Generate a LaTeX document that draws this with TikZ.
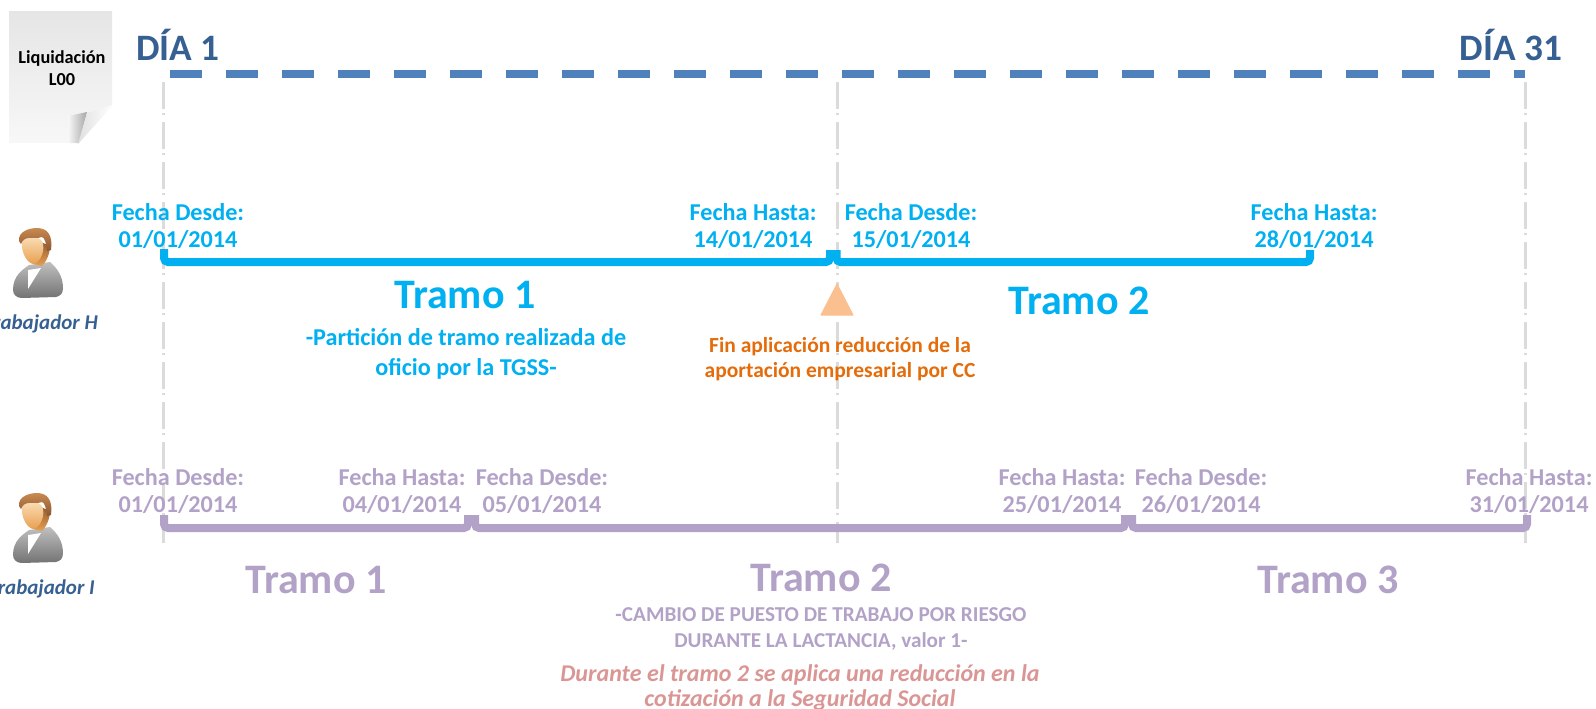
\documentclass[tikz,border=0pt]{standalone}
\usepackage{fontspec}
\setmainfont{Carlito}
\usetikzlibrary{shadings}
\definecolor{cblue}{HTML}{00B0F0}
\definecolor{cpurple}{HTML}{B3A2C7}
\definecolor{cdash}{HTML}{4F81BD}
\definecolor{cdark}{HTML}{376092}
\definecolor{corange}{HTML}{E46C0A}
\definecolor{ctri}{HTML}{FAC090}
\definecolor{cred}{HTML}{D99694}
\definecolor{skina}{HTML}{FBE3C0}
\definecolor{skinb}{HTML}{E9A050}
\definecolor{haira}{HTML}{C98A50}
\definecolor{hairb}{HTML}{8A5530}
\newcommand{\fs}[2]{\fontsize{#1}{#2}\selectfont}
\tikzset{
  x=1pt,y=-1pt,
  lbl/.style={inner sep=0pt,align=center,font=\bfseries\fs{24.2}{27.5}},
  datelbl/.style={lbl,text=#1},
  tramo/.style={inner sep=0pt,font=\bfseries\fs{42}{46},text=#1},
  guide/.style={draw=black!14,line width=3pt,dash pattern=on 27pt off 4pt on 2pt off 7pt},
  bracket/.style={draw=#1,line width=8pt,rounded corners=4pt},
  person/.pic={
    \shade[top color=gray!50,bottom color=gray!90!black,line join=round] (13,290) .. controls (13,276) and (22,270) .. (29,265) -- (50,262) .. controls (57,268) and (63,276) .. (63,288) .. controls (63,294) and (60,296) .. (56,297) -- (22,298) .. controls (17,298) and (13,295) .. (13,290) -- cycle;
    \fill[white] (28,270) -- (41,268) -- (28,289) -- cycle;
    \shade[top color=hairb,bottom color=skinb] (36,240) -- (50,246) .. controls (50,254) and (46,262) .. (42,266) -- (34,264) -- cycle;
    \shade[top color=skina,bottom color=skinb] (22,243) .. controls (22,236) and (42,234) .. (43,244) .. controls (45,254) and (38,264) .. (33,264) .. controls (27,263) and (21,252) .. (22,243) -- cycle;
    \shade[top color=haira,bottom color=hairb] (19,241) .. controls (18,231) and (30,228) .. (37,228) .. controls (48,228) and (53,236) .. (51,250) -- (47,251) .. controls (46,243) and (45,238) .. (42,237) .. controls (34,240) and (25,234) .. (21,244) -- cycle;
  }
}
\begin{document}
\begin{tikzpicture}
\useasboundingbox (0,0) rectangle (1596,709);
% paper
\shade[top color=black!10,bottom color=black!3] (9,12) rectangle (112,142);
\fill[white] (113,105) -- (113,143) -- (77,143) -- cycle;
\shade[left color=black!3,right color=black!35] (68,116) -- (87,112) -- (79,143) -- (68,143) -- cycle;
\shade[left color=black!12,right color=white] (113,105) -- (87,113) -- (78,144) -- cycle;
\node[lbl,text=black,font=\bfseries\fs{18.3}{20}] (liq) at (62,59) {Liquidación};
\node[lbl,text=black,font=\bfseries\fs{18.3}{20}] (l00) at (62,80) {L00};
% guides
\coordinate (g1t) at (163,82); \coordinate (g1b) at (163,543);
\coordinate (g2t) at (837,82); \coordinate (g2b) at (837,543);
\coordinate (g3t) at (1525,82); \coordinate (g3b) at (1525,543);
\draw[guide] (g1t) -- (g1b);
\draw[guide] (g2t) -- (g2b);
\draw[guide] (g3t) -- (g3b);
% top dashed line
\coordinate (topa) at (170,74); \coordinate (topb) at (1525,74);
\draw[cdash,line width=8pt,dash pattern=on 32pt off 24pt] (topa) -- (topb);
\node[inner sep=0pt,font=\bfseries\fs{37.3}{40},text=cdark] (d1) at (178,45) {DÍA 1};
\node[inner sep=0pt,font=\bfseries\fs{37.3}{40},text=cdark] (d31) at (1511,45) {DÍA 31};
% people
\pic at (0,0) {person};
\pic at (0,265) {person};
\node[anchor=east,inner sep=0pt,font=\bfseries\itshape\fs{21}{24},text=cdark] (th) at (98,324) {Trabajador H};
\node[anchor=east,inner sep=0pt,font=\bfseries\itshape\fs{21}{24},text=cdark] (ti) at (95,589) {Trabajador I};
% blue
\draw[bracket=cblue] (164,249) -- (164,262) -- (830,262) -- (830,250);
\draw[bracket=cblue] (836.5,250) -- (836.5,262) -- (1310,262) -- (1310,250);
\node[datelbl=cblue] (bd1) at (178,226) {Fecha Desde:\\01/01/2014};
\node[datelbl=cblue] (bh1) at (753,226) {Fecha Hasta:\\14/01/2014};
\node[datelbl=cblue] (bd2) at (911,226) {Fecha Desde:\\15/01/2014};
\node[datelbl=cblue] (bh2) at (1314,226) {Fecha Hasta:\\28/01/2014};
\node[tramo=cblue] (bt1) at (465,295) {Tramo 1};
\node[tramo=cblue] (bt2) at (1079,301) {Tramo 2};
\node[datelbl=cblue,font=\bfseries\fs{24.2}{29.5}] (bsub) at (466,354) {-Partición de tramo realizada de\\oficio por la TGSS-};
% triangle
\fill[white] (829,316) rectangle (845,322);
\fill[ctri,draw=ctri,line width=1pt,line join=round] (837,284) -- (853,315) -- (821,315) -- cycle;
\node[lbl,text=corange,font=\bfseries\fs{21.5}{24.5}] (fin) at (840,359) {Fin aplicación reducción de la\\aportación empresarial por CC};
% purple
\draw[bracket=cpurple] (164,515) -- (164,528) -- (468,528) -- (468,515);
\draw[bracket=cpurple] (475,515) -- (475,528) -- (1125,528) -- (1125,515);
\draw[bracket=cpurple] (1132,515) -- (1132,528) -- (1527,528) -- (1527,515);
\node[datelbl=cpurple] (pd1) at (178,491) {Fecha Desde:\\01/01/2014};
\node[datelbl=cpurple] (ph1) at (402,491) {Fecha Hasta:\\04/01/2014};
\node[datelbl=cpurple] (pd2) at (542,491) {Fecha Desde:\\05/01/2014};
\node[datelbl=cpurple] (ph2) at (1062,491) {Fecha Hasta:\\25/01/2014};
\node[datelbl=cpurple] (pd3) at (1201,491) {Fecha Desde:\\26/01/2014};
\node[datelbl=cpurple] (ph3) at (1529,491) {Fecha Hasta:\\31/01/2014};
\node[tramo=cpurple] (pt1) at (316,580) {Tramo 1};
\node[tramo=cpurple] (pt2) at (821,578) {Tramo 2};
\node[tramo=cpurple] (pt3) at (1328,580) {Tramo 3};
\node[datelbl=cpurple,font=\bfseries\fs{21.2}{26}] (psub) at (821,629) {-CAMBIO DE PUESTO DE TRABAJO POR RIESGO\\DURANTE LA LACTANCIA, valor 1-};
\node[lbl,text=cred,font=\bfseries\itshape\fs{24}{25}] (dur) at (800,688) {Durante el tramo 2 se aplica una reducción en la\\cotización a la Seguridad Social};
\end{tikzpicture}
\end{document}
